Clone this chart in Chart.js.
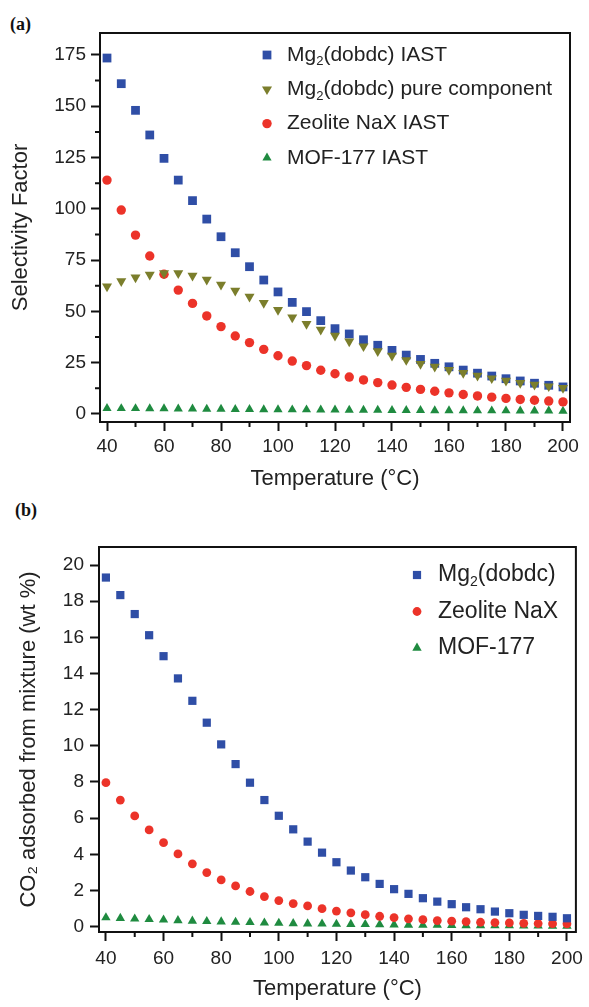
<!DOCTYPE html>
<html>
<head>
<meta charset="utf-8">
<script src="https://cdn.jsdelivr.net/npm/chart.js@4.4.1/dist/chart.umd.min.js"></script>
<style>
  body { margin: 0; background: #fff; }
  #wrap { position: relative; width: 589px; height: 1007px; }
  canvas { position: absolute; left: 0; }
  .panel { position: absolute; font: bold 18px "Liberation Serif", "DejaVu Serif", serif; color: #111; line-height: 20px; }
</style>
</head>
<body>
<div id="wrap">
  <div class="panel" style="left:10px;top:14px">(a)</div>
  <canvas id="chartA" width="589" height="495" style="top:0"></canvas>
  <div class="panel" style="left:15px;top:500px">(b)</div>
  <canvas id="chartB" width="589" height="512" style="top:495px"></canvas>
</div>
<script>
// temperatures (°C), shared by both panels
const temps = [40, 45, 50, 55, 60, 65, 70, 75, 80, 85, 90, 95, 100, 105, 110, 115, 120,
  125, 130, 135, 140, 145, 150, 155, 160, 165, 170, 175, 180, 185, 190, 195, 200];

const xTicks = [40, 60, 80, 100, 120, 140, 160, 180, 200];
const xMinorTicks = [50, 70, 90, 110, 130, 150, 170, 190];
const selectivityTicks = [0, 25, 50, 75, 100, 125, 150, 175];
const selectivityMinorTicks = [12.5, 37.5, 62.5, 87.5, 112.5, 137.5, 162.5];
const uptakeTicks = [0, 2, 4, 6, 8, 10, 12, 14, 16, 18, 20];

// (a) selectivity factor
const mgIast = [173.5, 161, 148, 136, 124.6, 114, 104, 95, 86.4, 78.6, 71.8, 65.3, 59.5, 54.4, 49.9, 45.5, 41.6,
  39.0, 36.2, 33.5, 31.0, 28.7, 26.6, 24.7, 23.0, 21.4, 19.9, 18.5, 17.2, 16.1, 15.0, 14.0, 13.2];
const mgPure = [62.2, 64.7, 66.6, 67.9, 68.6, 68.6, 67.4, 65.5, 63.0, 60.1, 57.2, 54.1, 50.7, 47.1, 43.9, 41.1, 38.2,
  35.4, 33.0, 30.6, 28.4, 26.3, 24.4, 23.1, 21.5, 20.0, 18.7, 17.4, 16.2, 15.1, 14.3, 13.5, 12.7];
const naxIast = [114, 99.4, 87.2, 77, 68.1, 60.4, 53.9, 47.8, 42.6, 38.0, 34.8, 31.5, 28.4, 25.8, 23.6, 21.3, 19.6,
  18.0, 16.6, 15.3, 14.1, 13.0, 12.0, 11.1, 10.3, 9.5, 8.8, 8.2, 7.6, 7.1, 6.7, 6.3, 5.9];
const mofIast = [2.8, 2.7, 2.7, 2.6, 2.6, 2.5, 2.5, 2.4, 2.4, 2.3, 2.3, 2.2, 2.2, 2.1, 2.1, 2.0, 2.0,
  1.9, 1.9, 1.9, 1.8, 1.8, 1.8, 1.7, 1.7, 1.7, 1.6, 1.6, 1.6, 1.5, 1.5, 1.5, 1.4];

// (b) CO2 adsorbed from mixture, wt %
const mgUptake = [19.31, 18.34, 17.29, 16.12, 14.96, 13.73, 12.49, 11.28, 10.08, 8.99, 7.96, 7.0, 6.13, 5.38, 4.70, 4.09, 3.56,
  3.10, 2.73, 2.36, 2.07, 1.81, 1.57, 1.38, 1.24, 1.07, 0.96, 0.83, 0.74, 0.65, 0.59, 0.54, 0.46];
const naxUptake = [7.96, 7.0, 6.12, 5.35, 4.64, 4.02, 3.47, 2.99, 2.58, 2.25, 1.94, 1.66, 1.44, 1.27, 1.14, 0.99, 0.86,
  0.76, 0.66, 0.57, 0.50, 0.43, 0.38, 0.33, 0.30, 0.27, 0.24, 0.22, 0.20, 0.18, 0.17, 0.16, 0.15];
const mofUptake = [0.50, 0.46, 0.43, 0.40, 0.37, 0.34, 0.31, 0.29, 0.27, 0.25, 0.23, 0.21, 0.19, 0.17, 0.16, 0.15, 0.14,
  0.13, 0.12, 0.11, 0.10, 0.09, 0.08, 0.08, 0.07, 0.06, 0.06, 0.05, 0.05, 0.04, 0.04, 0.03, 0.03];

const BLUE = '#2f4ea6';
const OLIVE = '#7b7e2c';
const RED = '#ec3329';
const GREEN = '#1f8b40';
const FONT = '"Liberation Sans", Arial, sans-serif';
const TEXT = '#222';

function points(values) {
  return temps.map((t, i) => ({ x: t, y: values[i] }));
}

function series(label, values, color, style, radius, rotation, order) {
  return {
    label,
    data: points(values),
    pointStyle: style,
    pointRadius: radius,
    pointHoverRadius: radius,
    pointRotation: rotation,
    backgroundColor: color,
    borderColor: color,
    pointBorderWidth: 0,
    showLine: false,
    order
  };
}

// draws "Mg₂(...)" with a real lowered, smaller 2
function drawLabel(ctx, text, x, y, size) {
  const parts = text.split('\u2082');
  ctx.textBaseline = 'middle';
  ctx.textAlign = 'left';
  parts.forEach((p, k) => {
    ctx.font = size + 'px ' + FONT;
    ctx.fillText(p, x, y);
    x += ctx.measureText(p).width;
    if (k < parts.length - 1) {
      ctx.font = Math.round(size * 0.62) + 'px ' + FONT;
      ctx.fillText('2', x, y + size * 0.32);
      x += ctx.measureText('2').width;
    }
  });
}

const frame = {
  id: 'frame',
  beforeDatasetsDraw(chart, args, opts) {
    const { ctx, chartArea: a, scales } = chart;
    ctx.save();
    ctx.strokeStyle = '#111';
    ctx.lineWidth = 2;
    ctx.strokeRect(a.left, a.top, a.right - a.left, a.bottom - a.top);
    ctx.beginPath();
    (opts.xMinor || []).forEach(v => {
      const px = scales.x.getPixelForValue(v);
      ctx.moveTo(px, a.bottom);
      ctx.lineTo(px, a.bottom + opts.minorLength);
    });
    (opts.yMinor || []).forEach(v => {
      const py = scales.y.getPixelForValue(v);
      ctx.moveTo(a.left, py);
      ctx.lineTo(a.left - opts.minorLength, py);
    });
    ctx.stroke();
    ctx.restore();
  }
};

const insideLegend = {
  id: 'insideLegend',
  afterDatasetsDraw(chart, args, opts) {
    const { ctx, chartArea: a } = chart;
    ctx.save();
    chart.data.datasets.forEach((ds, i) => {
      const y = a.top + opts.top + i * opts.gap;
      const mx = a.left + opts.markerX;
      ctx.fillStyle = ds.backgroundColor;
      ctx.strokeStyle = ds.backgroundColor;
      Chart.helpers.drawPoint(ctx, {
        pointStyle: ds.pointStyle, rotation: ds.pointRotation, radius: ds.pointRadius, borderWidth: 0
      }, mx, y);
      ctx.fillStyle = TEXT;
      drawLabel(ctx, ds.label, mx + opts.textGap, y, opts.fontSize);
    });
    ctx.restore();
  }
};

function axis(tickValues, min, max, size, padding, title, titlePad) {
  return {
    type: 'linear',
    min,
    max,
    afterBuildTicks: scale => { scale.ticks = tickValues.map(v => ({ value: v })); },
    afterFit: scale => {
      if (scale.isHorizontal()) scale.height = size; else scale.width = size;
    },
    grid: { drawOnChartArea: false, drawTicks: true, tickLength: 9, tickWidth: 2, tickColor: '#111' },
    border: { display: false },
    ticks: { autoSkip: false, maxRotation: 0, padding, color: TEXT, font: { family: FONT, size: 19 } },
    title: { display: true, text: title, color: TEXT, font: { family: FONT, size: 22 }, padding: titlePad }
  };
}

new Chart(document.getElementById('chartA'), {
  type: 'scatter',
  data: {
    datasets: [
      series('Mg\u2082(dobdc) IAST', mgIast, BLUE, 'rect', 6.2, 0, 2),
      series('Mg\u2082(dobdc) pure component', mgPure, OLIVE, 'triangle', 5.8, 180, 0),
      series('Zeolite NaX IAST', naxIast, RED, 'circle', 4.7, 0, 1),
      series('MOF-177 IAST', mofIast, GREEN, 'triangle', 5.3, 0, 3)
    ]
  },
  options: {
    responsive: false,
    animation: false,
    layout: { padding: { left: 0, top: 33, right: 19, bottom: 0 } },
    scales: {
      x: axis(xTicks, 37.54, 202.46, 73, 4, 'Temperature (\u00b0C)', { top: 0, bottom: 3 }),
      y: axis(selectivityTicks, -3.9, 185.7, 100, 5, 'Selectivity Factor', { top: 8, bottom: 0 })
    },
    plugins: {
      legend: { display: false },
      tooltip: { enabled: false },
      frame: { xMinor: xMinorTicks, yMinor: selectivityMinorTicks, minorLength: 5 },
      insideLegend: { markerX: 167, textGap: 20, top: 22, gap: 34.3, fontSize: 21 }
    }
  },
  plugins: [frame, insideLegend]
});

new Chart(document.getElementById('chartB'), {
  type: 'scatter',
  data: {
    datasets: [
      series('Mg\u2082(dobdc)', mgUptake, BLUE, 'rect', 5.8, 0, 0),
      series('Zeolite NaX', naxUptake, RED, 'circle', 4.4, 0, 1),
      series('MOF-177', mofUptake, GREEN, 'triangle', 5.4, 0, 2)
    ]
  },
  options: {
    responsive: false,
    animation: false,
    layout: { padding: { left: 0, top: 52, right: 10, bottom: 0 } },
    scales: {
      x: axis(xTicks, 37.6, 203.1, 75, 6, 'Temperature (\u00b0C)', { top: 0, bottom: 5 }),
      y: axis(uptakeTicks, -0.3, 21.0, 99, 6, 'CO\u2082 adsorbed from mixture (wt %)', { top: 16, bottom: 0 })
    },
    plugins: {
      legend: { display: false },
      tooltip: { enabled: false },
      frame: { xMinor: xMinorTicks, yMinor: [], minorLength: 5 },
      insideLegend: { markerX: 318, textGap: 21, top: 28, gap: 36.5, fontSize: 23 }
    }
  },
  plugins: [frame, insideLegend]
});
</script>
</body>
</html>
